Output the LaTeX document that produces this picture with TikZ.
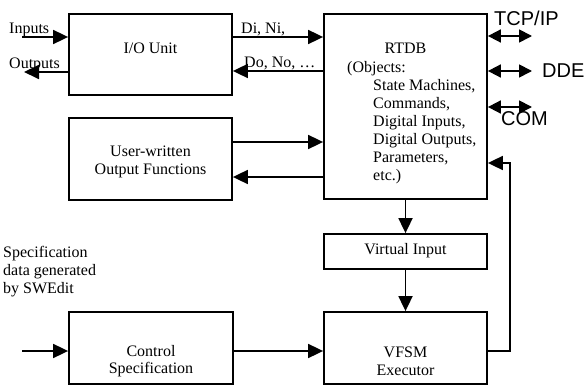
\documentclass[tikz,border=0pt]{standalone}
\usepackage{fontspec}
\setmainfont{Liberation Serif}
\newfontfamily\arialf{Liberation Sans}
\usetikzlibrary{arrows.meta}
\begin{document}
\begin{tikzpicture}[x=1pt,y=-1pt,
 box/.style={draw, line width=1.8pt, inner sep=0pt},
 arr/.style={line width=1.8pt, -{Triangle[length=15pt,width=14pt]}},
 darr/.style={line width=1.8pt, {Triangle[length=13pt,width=13pt]}-{Triangle[length=13pt,width=13pt]}},
 txt/.style={font=\fontsize{16}{17.7}\selectfont, inner sep=0pt, align=center},
 ltxt/.style={font=\fontsize{16}{17.7}\selectfont, inner sep=0pt, anchor=base west},
 sans/.style={font=\arialf\fontsize{20}{24}\selectfont, inner sep=0pt, anchor=base west}]
\useasboundingbox (0,0) rectangle (586,385);
% boxes
\node[box, minimum width=163pt, minimum height=81pt] (io) at (150.5,54.5) {};
\node[box, minimum width=163pt, minimum height=185pt] (rtdb) at (405.5,106.5) {};
\node[box, minimum width=163pt, minimum height=82pt] (user) at (150.5,159) {};
\node[box, minimum width=163pt, minimum height=35pt] (vin) at (405.5,251.5) {};
\node[box, minimum width=164pt, minimum height=72pt] (cs) at (151,348) {};
\node[box, minimum width=163pt, minimum height=72pt] (vfsm) at (405.5,348) {};
% box texts
\node[txt] (ioT) at (150.5,48) {I/O Unit};
\node[txt] (userT) at (150.5,162) {User-written\\Output Functions};
\node[txt] (vinT) at (405.5,251) {Virtual Input};
\node[txt] (csT) at (151,361) {Control\\Specification};
\node[txt] (vfsmT) at (405.5,361) {VFSM\\Executor};
\node[txt] (rtdbT) at (405.5,48) {RTDB};
\node[ltxt] (o1) at (347,73) {(Objects:};
\node[ltxt] (o2) at (373,91) {State Machines,};
\node[ltxt] (o3) at (373,108.5) {Commands,};
\node[ltxt] (o4) at (373,126.5) {Digital Inputs,};
\node[ltxt] (o5) at (373,144) {Digital Outputs,};
\node[ltxt] (o6) at (373,162) {Parameters,};
\node[ltxt] (o7) at (373,180) {etc.)};
% coordinates
\coordinate (inL) at (22,37);
\coordinate (outL) at (24,72);
\coordinate (yDi) at (0,37);
\coordinate (yDo) at (0,71);
\coordinate (yU1) at (0,142);
\coordinate (yU2) at (0,177);
\coordinate (specL) at (22,351);
\coordinate (fbC) at (510,351);
\coordinate (yFb) at (0,163);
\coordinate (tcpR) at (532,36);
\coordinate (ddeR) at (532,71);
\coordinate (comR) at (532,107);
% connectors
\draw[arr] (inL) -- (inL -| io.west);
\draw[arr] (io.west |- outL) -- (outL);
\draw[arr] (io.east |- yDi) -- (rtdb.west |- yDi);
\draw[arr] (rtdb.west |- yDo) -- (io.east |- yDo);
\draw[arr] (user.east |- yU1) -- (rtdb.west |- yU1);
\draw[arr] (rtdb.west |- yU2) -- (user.east |- yU2);
\draw[arr] (rtdb.south) -- (vin.north);
\draw[arr] (vin.south) -- (vfsm.north);
\draw[arr] (specL) -- (specL -| cs.west);
\draw[arr] (cs.east |- specL) -- (vfsm.west |- specL);
\draw[arr] (vfsm.east |- specL) -- (fbC) -- (fbC |- yFb) -- (rtdb.east |- yFb);
\draw[darr] (rtdb.east |- tcpR) -- (tcpR);
\draw[darr] (rtdb.east |- ddeR) -- (ddeR);
\draw[darr] (rtdb.east |- comR) -- (comR);
% labels
\node[ltxt] (inT) at (9,34) {Inputs};
\node[ltxt] (outT) at (9,69) {Outputs};
\node[ltxt] (diT) at (241,34) {Di, Ni,};
\node[ltxt] (doT) at (244,68) {Do, No, \dots};
\node[ltxt] (s1) at (3,257) {Specification};
\node[ltxt] (s2) at (3,275) {data generated};
\node[ltxt] (s3) at (3,293) {by SWEdit};
\node[sans] (tcpT) at (494,26) {TCP/IP};
\node[sans] (ddeT) at (542,78) {DDE};
\node[sans] (comT) at (501,125) {COM};
\end{tikzpicture}
\end{document}
